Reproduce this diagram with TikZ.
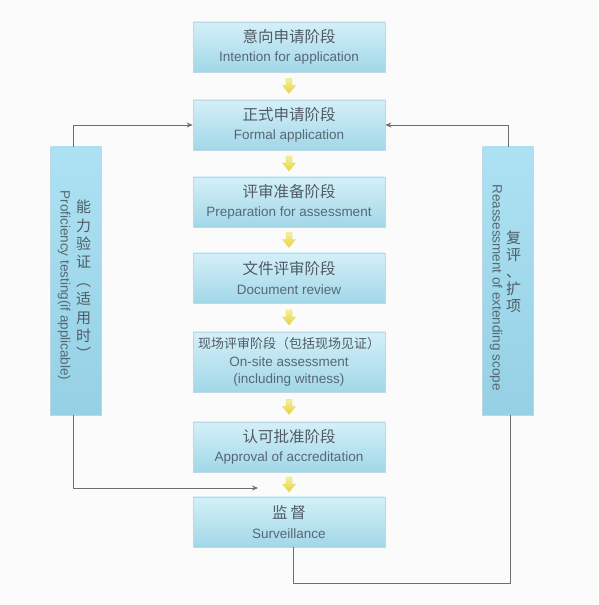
\documentclass[tikz,border=0pt]{standalone}
\usepackage{fontspec}
\setmainfont{Liberation Sans}
\newfontfamily\cjk{Noto Sans CJK SC}
\usetikzlibrary{calc,arrows.meta}
\definecolor{pagebg}{HTML}{FBFBFB}
\definecolor{boxtop}{HTML}{D4F0F8}
\definecolor{boxmid}{HTML}{CBEDF6}
\definecolor{boxbot}{HTML}{A2D7E8}
\definecolor{sidetop}{HTML}{ACE2F3}
\definecolor{sidemid}{HTML}{D4F1F8}
\definecolor{sidebot}{HTML}{96D0E4}
\definecolor{boxedge}{HTML}{BCD9E3}
\definecolor{txtcn}{HTML}{505B66}
\definecolor{txten}{HTML}{566873}
\definecolor{linegrey}{HTML}{6E6E6E}
\definecolor{yeltop}{HTML}{F7F09C}
\definecolor{yelbot}{HTML}{E3D33E}
\newcommand\cn[1]{{\cjk\fontsize{15.5}{19.5}\selectfont\color{txtcn}#1}}
\tikzset{
  stage/.style={minimum width=192pt, minimum height=50pt, inner sep=0pt,
    top color=boxtop, middle color=boxmid, bottom color=boxbot,
    draw=boxedge, line width=.6pt, align=center, text=txten,
    font=\fontsize{13.5}{19.5}\selectfont},
  sidebox/.style={minimum width=51pt, minimum height=268pt, inner sep=0pt,
    top color=sidetop, middle color=sidemid, bottom color=sidebot,
    draw=boxedge, line width=.6pt},
  sideen/.style={rotate=-90, inner sep=0pt, text=txten, font=\fontsize{13.5}{16}\selectfont},
  sidecn/.style={inner sep=0pt, align=center, text=txtcn},
  link/.style={draw=linegrey, line width=.9pt},
  yarrow/.style={top color=yeltop, bottom color=yelbot, draw=yelbot!85!white, line width=.4pt}
}
\begin{document}
\begin{tikzpicture}[x=1pt, y=1pt, line join=round, >={Stealth[length=6pt,width=5pt]}]
\useasboundingbox (0,0) rectangle (598,605);
\fill[pagebg] (0,0) rectangle (598,605);
% stages
\node[stage] (f1) at (289,558) {\cn{意向申请阶段}\\Intention for application};
\node[stage] (f2) at (289,480) {\cn{正式申请阶段}\\Formal application};
\node[stage] (f3) at (289,403) {\cn{评审准备阶段}\\Preparation for assessment};
\node[stage] (f4) at (289,327) {\cn{文件评审阶段}\\Document review};
\node[stage, minimum height=60pt, font=\fontsize{13.5}{17.5}\selectfont] (f5) at (289,243)
  {{\cjk\fontsize{13}{17.5}\selectfont\color{txtcn}现场评审阶段（包括现场见证）}\\On-site assessment\\(including witness)};
\node[stage] (f6) at (289,158) {\cn{认可批准阶段}\\Approval of accreditation};
\node[stage] (f7) at (289,83) {\cn{监\,督}\\Surveillance};
\foreach \a/\b in {f1/f2,f2/f3,f3/f4,f4/f5,f5/f6,f6/f7}
  \path[yarrow] ($(\a.south)!.5!(\b.north)$) ++(-3,7.5) -- ++(6,0) -- ++(0,-7)
    -- ++(3.5,0) -- ++(-6.5,-8) -- ++(-6.5,8) -- ++(3.5,0) -- cycle;
% side boxes
\node[sidebox] (pt) at (76,324) {};
\node[sideen] (pten) at (64,319.5) {Proficiency testing(if applicable)};
\node[sidecn, font=\cjk\fontsize{15}{18.4}\selectfont] (ptcn) at (83.5,325)
  {能\\力\\验\\证\\︵\\适\\用\\时\\︶};
\node[sidebox] (re) at (508,324) {};
\node[sideen] (reen) at (496,317.5) {Reassessment of extending scope};
\node[sidecn, font=\cjk\fontsize{15}{17}\selectfont] (recn) at (513.5,333.5)
  {复\\评\\、\\扩\\项};
% connectors
\coordinate (ptend) at (258,117);
\coordinate (loop) at (293,22);
\draw[link,->] ([xshift=-3pt]pt.north) |- (f2.west);
\draw[link,->] ([xshift=-3pt]pt.south) |- (ptend);
\draw[link,->] (re.north) |- (f2.east);
\draw[link] ([xshift=2pt]re.south) |- (loop) -- (loop |- f7.south);
\end{tikzpicture}
\end{document}
